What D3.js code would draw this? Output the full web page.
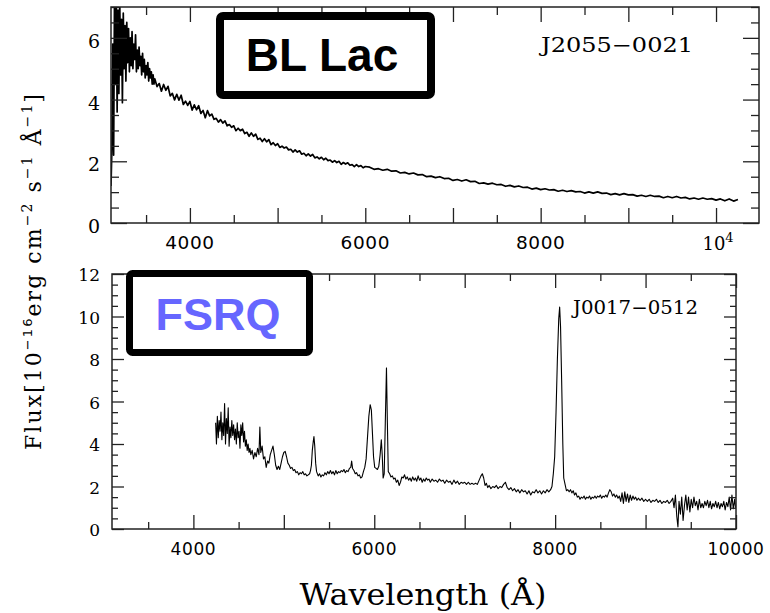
<!DOCTYPE html>
<html><head><meta charset="utf-8">
<script src="https://cdn.jsdelivr.net/npm/d3@7"></script>
<style>body{margin:0;background:#fff}svg{display:block}</style>
</head><body>
<script>
// ---------- DATA ----------
// BL Lac (J2055-0021): [wavelength Å, flux]
const blLacSpectrum = [
[3100,1.2],[3110,2.4],[3120,5.8],[3130,2.2],[3140,7.4],[3150,4.5],[3160,7.2],[3170,3.6],[3180,6.9],[3190,4.2],
[3200,7.1],[3210,4.8],[3220,6.6],[3230,3.9],[3240,6.8],[3250,5.0],[3260,6.4],[3270,4.6],[3280,6.5],[3290,5.2],
[3300,6.3],[3310,4.9],[3320,6.0],[3330,5.1],[3340,6.2],[3350,5.0],[3360,5.8],[3370,5.3],[3380,6.1],[3390,4.9],
[3400,5.6],[3410,5.0],[3420,5.7],[3430,5.1],[3440,5.4],[3450,4.8],[3460,5.5],[3470,4.9],[3480,5.3],[3490,4.7],
[3500,5.1],[3510,4.8],[3520,5.2],[3530,4.6],[3540,5.0],[3550,4.7],[3560,4.9],[3570,4.5],[3580,4.8],[3590,4.5],
[3600,4.67],[3625,4.42],[3650,4.52],[3675,4.27],[3700,4.49],[3725,4.30],[3750,4.43],[3775,4.12],[3800,4.20],
[3825,3.99],[3850,4.17],[3875,3.98],[3900,4.14],[3925,3.84],[3950,3.95],[3975,3.81],[4000,3.94],[4025,3.66],
[4050,3.83],[4075,3.67],[4100,3.80],[4125,3.55],[4150,3.65],[4175,3.41],[4200,3.64],[4225,3.47],[4250,3.53],
[4275,3.36],[4300,3.39],[4325,3.27],[4350,3.35],[4375,3.24],[4400,3.31],[4425,3.15],[4450,3.19],[4475,3.10],
[4500,3.15],[4525,2.99],[4550,3.07],[4575,2.99],[4600,3.04],[4625,2.90],[4650,2.94],[4675,2.81],[4700,2.92],
[4725,2.81],[4750,2.88],[4775,2.71],[4800,2.75],[4825,2.64],[4850,2.73],[4875,2.63],[4900,2.70],[4925,2.54],
[4950,2.60],[4975,2.51],[5000,2.57],[5025,2.45],[5050,2.49],[5075,2.43],[5100,2.46],[5125,2.37],[5150,2.39],
[5175,2.30],[5200,2.37],[5225,2.30],[5250,2.34],[5275,2.23],[5300,2.26],[5325,2.18],[5350,2.24],[5375,2.17],
[5400,2.22],[5425,2.11],[5450,2.14],[5475,2.08],[5500,2.13],[5525,2.05],[5550,2.10],[5575,2.02],[5600,2.04],
[5625,1.97],[5650,2.02],[5675,1.96],[5700,2.00],[5725,1.90],[5750,1.96],[5775,1.91],[5800,1.95],[5825,1.87],
[5850,1.89],[5875,1.83],[5900,1.89],[5925,1.83],[5950,1.86],[5975,1.79],[6000,1.83],
[6050,1.81],[6100,1.74],[6150,1.76],[6200,1.71],[6250,1.74],[6300,1.68],[6350,1.69],[6400,1.62],[6450,1.64],
[6500,1.59],[6550,1.62],[6600,1.56],[6650,1.57],[6700,1.50],[6750,1.52],[6800,1.47],[6850,1.50],[6900,1.44],
[6950,1.45],[7000,1.38],[7050,1.41],[7100,1.36],[7150,1.40],[7200,1.34],[7250,1.35],[7300,1.28],[7350,1.30],
[7400,1.26],[7450,1.29],[7500,1.24],[7550,1.25],[7600,1.19],[7650,1.22],[7700,1.17],[7750,1.20],[7800,1.15],
[7850,1.16],[7900,1.10],[7950,1.13],[8000,1.08],[8050,1.11],[8100,1.07],[8150,1.08],[8200,1.03],[8250,1.06],
[8300,1.02],[8350,1.05],[8400,1.01],[8450,1.02],[8500,0.97],[8550,1.01],[8600,0.97],[8650,1.01],[8700,0.96],
[8750,0.97],[8800,0.92],[8850,0.95],[8900,0.91],[8950,0.95],[9000,0.91],[9050,0.92],[9100,0.87],[9150,0.90],
[9200,0.86],[9250,0.90],[9300,0.86],[9350,0.87],[9400,0.82],[9450,0.86],[9500,0.82],[9550,0.86],[9600,0.81],
[9650,0.83],[9700,0.78],[9750,0.81],[9800,0.77],[9850,0.81],[9900,0.77],[9950,0.79],[10000,0.74],[10050,0.78],
[10100,0.72],[10150,0.78],[10200,0.71],[10250,0.76]
];
// FSRQ (J0017-0512): [wavelength Å, flux]
const fsrqSpectrum = [
[4246,5.0],[4255,4.0],[4265,5.3],[4275,4.3],[4285,5.1],[4295,4.6],[4305,5.5],[4315,4.2],[4325,5.0],[4335,4.4],
[4345,5.9],[4355,4.0],[4365,5.2],[4375,4.5],[4385,5.7],[4395,3.9],[4405,4.8],[4415,4.3],[4425,5.1],[4435,4.4],
[4445,4.9],[4455,4.2],[4465,4.7],[4475,4.0],[4485,5.0],[4495,4.3],[4505,4.6],[4515,3.8],[4525,4.9],[4535,4.4],
[4545,5.0],[4555,4.1],[4565,4.6],[4575,3.9],[4585,4.2],[4595,3.7],[4605,4.0],[4615,3.6],[4625,3.8],[4635,3.5],
[4650,3.7],[4665,3.3],[4680,3.6],[4695,3.4],[4710,3.8],[4725,3.5],[4735,4.8],[4745,3.6],[4760,3.9],[4775,3.3],
[4790,3.4],[4805,2.9],[4820,3.2],[4835,3.1],[4850,3.5],[4865,3.7],[4880,3.9],[4895,3.5],[4910,3.0],[4925,2.8],
[4940,2.95],[4955,2.8],[4970,3.1],[4985,3.4],[5000,3.6],[5015,3.65],[5030,3.4],[5045,3.1],[5060,3.0],[5075,2.85],
[5090,2.9],[5105,2.75],[5120,2.8],[5135,2.65],[5150,2.7],[5165,2.55],[5180,2.65],[5195,2.6],[5210,2.7],[5225,2.55],
[5240,2.6],[5255,2.5],[5270,2.55],[5285,2.6],[5295,2.75],[5305,3.0],[5315,3.7],[5325,4.1],[5333,4.35],[5342,3.9],
[5352,3.1],[5362,2.7],[5380,2.5],[5395,2.6],[5410,2.45],[5425,2.55],[5440,2.5],[5455,2.65],[5470,2.55],[5485,2.7],
[5500,2.6],[5515,2.75],[5530,2.6],[5545,2.7],[5560,2.55],[5575,2.75],[5590,2.6],[5605,2.7],[5620,2.65],[5635,2.75],
[5650,2.7],[5665,2.8],[5680,2.65],[5695,2.75],[5710,2.7],[5725,2.85],[5740,2.9],[5750,3.2],[5760,2.85],[5775,2.75],
[5790,2.6],[5805,2.65],[5820,2.5],[5835,2.55],[5850,2.4],[5865,2.45],[5880,2.7],[5895,2.9],[5910,3.3],[5925,4.3],
[5940,5.3],[5955,5.85],[5968,5.6],[5980,4.5],[5992,3.4],[6005,2.9],[6020,2.85],[6035,2.8],[6050,2.95],[6065,3.5],
[6078,4.2],[6088,3.5],[6098,2.4],[6110,2.6],[6122,5.0],[6135,7.58],[6145,5.0],[6155,2.7],[6170,2.6],[6185,2.45],
[6200,2.5],[6215,2.35],[6230,2.4],[6245,2.2],[6260,2.3],[6275,2.05],[6290,2.2],[6305,2.45],[6320,2.4],[6335,2.55],
[6350,2.35],[6365,2.45],[6380,2.3],[6395,2.4],[6410,2.25],[6425,2.45],[6440,2.3],[6455,2.4],[6470,2.25],[6485,2.5],
[6500,2.3],[6515,2.4],[6530,2.2],[6545,2.35],[6560,2.25],[6575,2.4],[6590,2.3],[6605,2.35],[6620,2.2],[6640,2.35],
[6660,2.25],[6680,2.3],[6700,2.2],[6720,2.35],[6740,2.25],[6760,2.3],[6780,2.15],[6800,2.3],[6820,2.2],[6840,2.25],
[6860,2.1],[6880,2.3],[6900,2.15],[6920,2.25],[6940,2.1],[6960,2.2],[6980,2.15],[7000,2.2],[7020,2.1],[7040,2.2],
[7060,2.1],[7080,2.15],[7100,2.1],[7120,2.15],[7140,2.1],[7160,2.3],[7180,2.5],[7195,2.6],[7210,2.4],[7225,2.05],
[7240,2.15],[7255,1.95],[7270,2.05],[7290,1.9],[7310,2.0],[7330,1.95],[7350,2.05],[7370,1.9],[7390,2.0],[7410,1.95],
[7430,2.1],[7450,2.2],[7470,1.95],[7490,1.85],[7510,1.95],[7530,1.8],[7550,1.9],[7570,1.75],[7590,1.85],[7610,1.7],
[7630,1.85],[7650,1.75],[7670,1.8],[7690,1.65],[7710,1.8],[7730,1.6],[7750,1.75],[7770,1.7],[7790,1.85],[7810,1.7],
[7830,1.8],[7850,1.65],[7870,1.8],[7890,1.7],[7910,1.85],[7930,1.75],[7950,1.85],[7965,2.0],[7980,2.6],[7995,3.4],
[8010,5.5],[8025,8.0],[8040,9.9],[8050,10.45],[8060,9.5],[8072,7.0],[8085,4.0],[8095,2.4],[8110,2.1],[8125,1.8],
[8140,1.85],[8155,1.75],[8170,1.85],[8185,1.7],[8200,1.8],[8215,1.6],[8230,1.7],[8245,1.5],[8260,1.55],[8275,1.4],
[8290,1.5],[8305,1.45],[8320,1.55],[8335,1.4],[8350,1.5],[8365,1.45],[8380,1.55],[8395,1.4],[8410,1.5],[8425,1.45],
[8440,1.55],[8455,1.45],[8470,1.55],[8485,1.5],[8500,1.6],[8515,1.45],[8530,1.55],[8545,1.5],[8560,1.6],[8575,1.5],
[8590,1.7],[8605,1.85],[8620,1.75],[8635,1.55],[8650,1.65],[8665,1.5],[8680,1.6],[8695,1.45],[8710,1.55],[8725,1.3],
[8740,1.7],[8755,1.2],[8770,1.75],[8785,1.3],[8800,1.65],[8815,1.25],[8830,1.6],[8845,1.35],[8860,1.55],[8875,1.4],
[8890,1.5],[8905,1.35],[8920,1.45],[8940,1.35],[8960,1.45],[8980,1.3],[9000,1.4],[9020,1.3],[9040,1.4],[9060,1.25],
[9080,1.35],[9100,1.3],[9120,1.4],[9140,1.25],[9160,1.35],[9180,1.2],[9200,1.3],[9220,1.25],[9240,1.35],[9260,1.2],
[9280,1.3],[9300,1.45],[9315,1.0],[9330,1.6],[9345,0.6],[9358,0.1],[9370,1.3],[9385,0.7],[9400,1.5],[9415,0.4],
[9430,1.1],[9445,1.6],[9460,0.9],[9475,1.5],[9490,0.8],[9505,1.4],[9520,1.0],[9535,1.5],[9550,1.1],[9565,1.3],
[9580,0.9],[9595,1.4],[9610,1.0],[9625,1.2],[9640,1.0],[9655,1.3],[9670,1.1],[9685,1.35],[9700,1.0],[9715,1.3],
[9730,0.95],[9745,1.2],[9760,1.05],[9775,1.3],[9790,1.0],[9805,1.25],[9820,0.95],[9835,1.2],[9850,1.05],[9865,1.3],
[9880,0.9],[9895,1.25],[9910,1.05],[9925,1.5],[9940,0.9],[9955,1.6],[9970,0.95],[9985,1.4],[9995,1.0]
];
// axes / ticks
const topXDomain = [3100, 10490], topYDomain = [0, 7];
const botXDomain = [3100, 10000], botYDomain = [0, 12];
const topXMajor = [4000,5000,6000,7000,8000,9000,10000];
const topXMinor = [3500,4500,5500,6500,7500,8500,9500];
const topXLabels = [4000,6000,8000];
const topXPowerLabel = 10000;
const botXMajor = [4000,5000,6000,7000,8000,9000,10000];
const botXMinor = [3500,4500,5500,6500,7500,8500,9500];
const botXLabels = [4000,6000,8000,10000];
const topYMajor = [0,2,4,6];
const topYMinor = [0.5,1,1.5,2.5,3,3.5,4.5,5,5.5,6.5,7];
const botYMajor = [0,2,4,6,8,10,12];
const botYMinor = [0.5,1,1.5,2.5,3,3.5,4.5,5,5.5,6.5,7,7.5,8.5,9,9.5,10.5,11,11.5];
const topName = "J2055\u22120021", botName = "J0017\u22120512";
const topTag = "BL Lac", botTag = "FSRQ";

// ---------- DRAW ----------
const W = 770, H = 613;
const svg = d3.select("body").append("svg").attr("width", W).attr("height", H);

function panel(box, xd, yd, xMaj, xMin, yMaj, yMin, xTick, yTick, data, lw, id) {
  const x = d3.scaleLinear().domain(xd).range([box.l, box.r]);
  const y = d3.scaleLinear().domain(yd).range([box.b, box.t]);
  const g = svg.append("g");
  svg.append("clipPath").attr("id", id).append("rect")
    .attr("x", box.l).attr("y", box.t).attr("width", box.r - box.l).attr("height", box.b - box.t);
  const line = d3.line().x(d => x(d[0])).y(d => y(d[1]));
  g.append("path").datum(data).attr("d", line).attr("fill", "none")
    .attr("stroke", "#000").attr("stroke-width", lw).attr("stroke-linejoin", "round")
    .attr("clip-path", `url(#${id})`);
  const tk = (axis, tr, vals, len) => {
    const a = g.append("g").attr("transform", tr)
      .call(axis.tickValues(vals).tickSize(-len).tickFormat(""));
    a.select(".domain").remove();
    a.selectAll("line").attr("stroke", "#222").attr("stroke-width", 1.3);
  };
  tk(d3.axisBottom(x), `translate(0,${box.b})`, xMaj, xTick[0]);
  tk(d3.axisBottom(x), `translate(0,${box.b})`, xMin, xTick[1]);
  tk(d3.axisTop(x), `translate(0,${box.t})`, xMaj, xTick[0]);
  tk(d3.axisTop(x), `translate(0,${box.t})`, xMin, xTick[1]);
  tk(d3.axisLeft(y), `translate(${box.l},0)`, yMaj, yTick[0]);
  tk(d3.axisLeft(y), `translate(${box.l},0)`, yMin, yTick[1]);
  tk(d3.axisRight(y), `translate(${box.r},0)`, yMaj, yTick[0]);
  tk(d3.axisRight(y), `translate(${box.r},0)`, yMin, yTick[1]);
  g.append("rect").attr("x", box.l).attr("y", box.t).attr("width", box.r - box.l)
    .attr("height", box.b - box.t).attr("fill", "none").attr("stroke", "#222").attr("stroke-width", 1.5);
  return {x, y, g};
}

const tp = {l: 111, r: 759, t: 7, b: 223};
const bp = {l: 112, r: 736, t: 274, b: 529};
const T = panel(tp, topXDomain, topYDomain, topXMajor, topXMinor, topYMajor, topYMinor, [15, 8], [16, 8], blLacSpectrum, 1.7, "clipTop");
const B = panel(bp, botXDomain, botYDomain, botXMajor, botXMinor, botYMajor, botYMinor, [14, 7], [12, 6], fsrqSpectrum, 1.1, "clipBot");

// tick labels
T.g.selectAll(".ylab").data(topYMajor).enter().append("text")
  .attr("x", 100).attr("y", d => T.y(d) + 10).attr("text-anchor", "end")
  .attr("font-family", "DejaVu Serif").attr("font-size", 19).text(d => d);
T.g.selectAll(".xlab").data(topXLabels).enter().append("text")
  .attr("x", d => T.x(d)).attr("y", 249).attr("text-anchor", "middle")
  .attr("font-family", "DejaVu Sans").attr("font-size", 18.5).attr("letter-spacing", 0.6).text(d => d);
const p = T.g.append("text").attr("x", T.x(topXPowerLabel) + 2).attr("y", 250).attr("text-anchor", "middle")
  .attr("font-family", "DejaVu Serif").attr("font-size", 18);
p.append("tspan").text("10");
p.append("tspan").attr("dy", -8).attr("font-size", 13).text("4");

B.g.selectAll(".ylab").data(botYMajor).enter().append("text")
  .attr("x", 100).attr("y", d => B.y(d) + 7).attr("text-anchor", "end")
  .attr("font-family", "DejaVu Serif").attr("font-size", 17).text(d => d);
B.g.selectAll(".xlab").data(botXLabels).enter().append("text")
  .attr("x", d => B.x(d)).attr("y", 555).attr("text-anchor", "middle")
  .attr("font-family", "DejaVu Sans").attr("font-size", 17).attr("letter-spacing", 0.6).text(d => d);

// object names
svg.append("text").attr("x", 541).attr("y", 51.5).attr("font-family", "DejaVu Serif")
  .attr("font-size", 20).attr("textLength", 152).attr("lengthAdjust", "spacingAndGlyphs").text(topName);
svg.append("text").attr("x", 573).attr("y", 314).attr("font-family", "DejaVu Serif")
  .attr("font-size", 19).attr("textLength", 125).attr("lengthAdjust", "spacingAndGlyphs").text(botName);

// tag boxes
svg.append("rect").attr("x", 220).attr("y", 16).attr("width", 211).attr("height", 79)
  .attr("rx", 3).attr("fill", "#fff").attr("stroke", "#000").attr("stroke-width", 8);
svg.append("text").attr("x", 322).attr("y", 71).attr("text-anchor", "middle")
  .attr("font-family", "Liberation Sans").attr("font-weight", "bold").attr("font-size", 46).attr("fill", "#000").text(topTag);
svg.append("rect").attr("x", 129.5).attr("y", 273.5).attr("width", 180).attr("height", 79)
  .attr("rx", 3).attr("fill", "#fff").attr("stroke", "#000").attr("stroke-width", 7);
svg.append("text").attr("x", 218).attr("y", 330).attr("text-anchor", "middle")
  .attr("font-family", "Liberation Sans").attr("font-weight", "bold").attr("font-size", 45).attr("fill", "#6666ff").text(botTag);

// axis titles
svg.append("text").attr("x", 423).attr("y", 605).attr("text-anchor", "middle")
  .attr("font-family", "DejaVu Serif").attr("font-size", 29).attr("textLength", 247)
  .attr("lengthAdjust", "spacingAndGlyphs").text("Wavelength (\u00C5)");

const yl = svg.append("text").attr("transform", "translate(41,271) rotate(-90)")
  .attr("text-anchor", "middle").attr("font-family", "DejaVu Serif").attr("font-size", 22);
yl.append("tspan").text("Flux[10");
yl.append("tspan").attr("dy", -9).attr("font-size", 13).attr("font-family", "DejaVu Sans").text("\u221216");
yl.append("tspan").attr("dy", 9).text("erg cm");
yl.append("tspan").attr("dy", -9).attr("font-size", 14).text("\u22122");
yl.append("tspan").attr("dy", 9).text(" s");
yl.append("tspan").attr("dy", -9).attr("font-size", 14).text("\u22121");
yl.append("tspan").attr("dy", 9).text(" \u00C5");
yl.append("tspan").attr("dy", -9).attr("font-size", 14).text("\u22121");
yl.append("tspan").attr("dy", 9).text("]");
// fit y title to reference length
const L = yl.node().getComputedTextLength();
const target = 358, nChars = yl.text().length;
yl.attr("letter-spacing", ((target - L) / nChars).toFixed(2));
</script>
</body></html>
